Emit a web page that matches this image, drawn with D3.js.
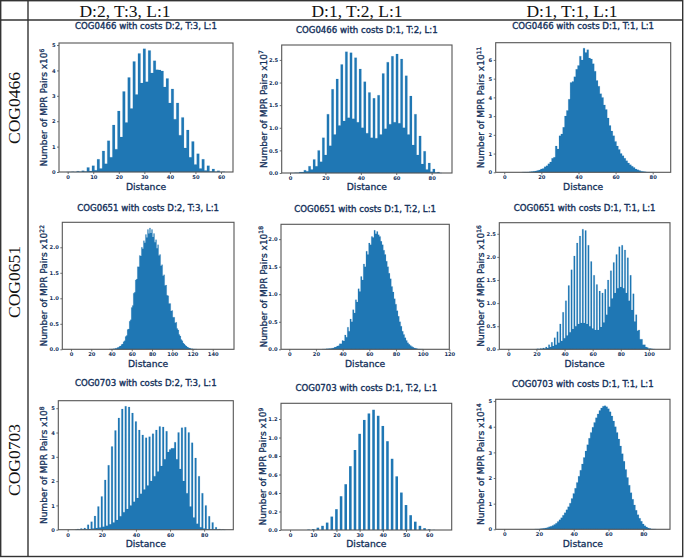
<!DOCTYPE html>
<html><head><meta charset="utf-8">
<script src="https://cdn.jsdelivr.net/npm/d3@7"></script>
<style>body{margin:0;background:#fff}svg{display:block}</style>
</head><body><svg id="c" width="685" height="558"></svg>
<script>
// ---------- DATA ----------
const columnHeaders = ["D:2, T:3, L:1", "D:1, T:2, L:1", "D:1, T:1, L:1"];
const rowHeaders = ["COG0466", "COG0651", "COG0703"];

// histogram heights (x10^exp MPR pairs), consecutive bins
const cog0466_d2t3 = [0,0,0.01,0,0.03,0.01,0.05,0.02,0.18,0.04,0.25,0.07,0.5,0.14,0.83,0.32,1.23,0.58,1.85,0.9,2.4,1.38,3.17,1.95,3.72,2.5,4.35,3.05,4.67,3.5,4.85,3.55,4.78,3.9,4.38,4.03,4.02,3.98,3.35,3.68,2.72,3.27,2.08,2.72,1.45,2.15,0.95,1.65,0.58,1.2,0.3,0.72,0.14,0.5,0.06,0.25,0.02,0.12,0.01,0.05,0,0.01];
const cog0466_d1t2 = [0,0,0.005,0.005,0.02,0.02,0.06,0.04,0.15,0.08,0.3,0.15,0.5,0.25,0.78,0.4,1.3,0.6,1.85,0.85,2.08,1.05,2.4,1.15,2.68,1.22,2.66,1.2,2.55,1.12,2.3,1.0,2.02,0.88,1.78,0.78,1.65,0.77,1.72,0.85,2.2,0.98,2.45,1.08,2.58,1.12,2.63,1.1,2.52,1.0,2.15,0.85,1.7,0.62,1.3,0.4,0.82,0.2,0.48,0.08,0.22,0.03,0.09,0.01,0.02,0];
const cog0466_d1t1 = [0.005,0.01,0.01,0.02,0.03,0.04,0.05,0.07,0.1,0.12,0.18,0.2,0.3,0.35,0.45,0.55,0.75,0.8,1.4,1.25,1.95,2.05,2.4,3.0,3.3,3.9,4.8,4.85,5.1,5.5,5.7,6.2,6.0,6.63,6.4,6.55,6.1,6.05,5.8,5.4,4.9,4.6,4.2,4.0,3.6,3.35,2.9,2.5,2.2,1.95,1.65,1.4,1.22,1.0,0.88,0.75,0.62,0.5,0.4,0.32,0.25,0.18,0.13,0.09,0.06,0.04,0.025,0.015,0.01,0.005,0.002];
const cog0651_d2t3 = [0.002,0.002,0.005,0.006,0.011,0.012,0.02,0.022,0.035,0.04,0.06,0.066,0.095,0.105,0.15,0.17,0.25,0.27,0.39,0.4,0.55,0.58,0.82,0.86,1.1,1.12,1.36,1.38,1.62,1.62,1.84,1.83,2.0,1.97,2.13,2.09,2.25,2.19,2.35,2.27,2.38,2.28,2.35,2.2,2.27,2.1,2.15,1.98,2.05,1.84,1.86,1.64,1.66,1.44,1.46,1.25,1.26,1.06,1.05,0.9,0.9,0.75,0.76,0.63,0.63,0.52,0.53,0.41,0.38,0.29,0.26,0.19,0.17,0.125,0.105,0.077,0.063,0.044,0.036,0.024,0.019,0.011,0.009,0.005,0.004,0.002,0.001];
const cog0651_d1t2 = [0.002,0.003,0.005,0.008,0.01,0.013,0.016,0.02,0.025,0.035,0.04,0.06,0.065,0.1,0.1,0.16,0.15,0.26,0.22,0.4,0.33,0.55,0.5,0.72,0.66,0.9,0.86,1.1,1.05,1.32,1.26,1.55,1.5,1.78,1.72,1.93,1.9,2.05,2.03,2.16,2.1,2.14,2.08,2.05,1.96,1.9,1.8,1.72,1.6,1.5,1.38,1.28,1.14,1.04,0.92,0.82,0.7,0.6,0.5,0.42,0.33,0.27,0.21,0.16,0.12,0.09,0.07,0.05,0.035,0.025,0.017,0.011,0.007,0.004,0.002,0.001];
const cog0651_d1t1 = [0.003,0.01,0.005,0.02,0.01,0.03,0.02,0.05,0.03,0.1,0.05,0.15,0.07,0.25,0.1,0.38,0.14,0.55,0.18,0.8,0.24,1.05,0.3,1.38,0.37,1.72,0.44,2.02,0.5,2.3,0.55,2.45,0.57,2.6,0.57,2.57,0.55,2.25,0.5,1.9,0.45,1.6,0.42,1.4,0.42,1.26,0.48,1.22,0.58,1.3,0.75,1.5,0.92,1.7,1.1,1.88,1.22,2.05,1.32,2.22,1.35,2.25,1.32,2.15,1.22,1.98,1.05,1.6,0.85,1.2,0.6,0.75,0.4,0.42,0.22,0.22,0.1,0.1,0.05,0.04,0.02,0.015,0.01,0.005,0.003];
const cog0703_d2t3 = [0.005,0.03,0.005,0.05,0.01,0.07,0.02,0.2,0.03,0.33,0.05,0.56,0.07,0.95,0.09,1.37,0.12,2.05,0.16,2.65,0.22,3.42,0.3,4.08,0.4,4.6,0.55,4.97,0.72,5.08,0.85,5.05,1.0,4.8,1.15,4.45,1.3,4.1,1.48,3.9,1.65,3.78,1.82,3.83,2.0,3.95,2.2,4.1,2.4,4.25,2.62,4.23,2.9,4.05,3.2,3.3,3.35,3.35,3.6,2.9,4.0,2.5,4.2,2.0,4.22,1.5,4.0,0.95,3.58,0.5,2.95,0.25,2.2,0.1,1.5,0.05,1.0,0.02,0.55,0.01,0.3,0.005,0.1,0,0.03,0,0.01,0];
const cog0703_d1t2 = [0.005,0.01,0.025,0.045,0.08,0.145,0.225,0.365,0.495,0.69,0.865,1.04,1.19,1.26,1.30,1.235,1.125,0.96,0.77,0.58,0.405,0.27,0.16,0.09,0.045,0.02,0.008,0.002];
const cog0703_d1t1 = [0.005,0.008,0.012,0.02,0.03,0.04,0.055,0.075,0.095,0.12,0.15,0.19,0.24,0.3,0.37,0.45,0.55,0.65,0.76,0.88,1.02,1.2,1.4,1.6,1.83,2.07,2.3,2.55,2.8,3.05,3.3,3.55,3.78,3.98,4.17,4.35,4.5,4.63,4.73,4.8,4.82,4.78,4.7,4.58,4.42,4.22,4.0,3.78,3.52,3.25,2.95,2.65,2.33,2.02,1.72,1.43,1.17,0.95,0.74,0.57,0.43,0.31,0.21,0.14,0.09,0.055,0.03,0.015,0.007,0.003];

// tick values
const xTicks10to60 = [0,10,20,30,40,50,60];
const xTicks0to80 = [0,20,40,60,80];
const xTicks0to140 = [0,20,40,60,80,100,120,140];
const xTicks0to120 = [0,20,40,60,80,100,120];
const xTicks0to100 = [0,20,40,60,80,100];
const yTicksInt5 = [0,1,2,3,4,5];
const yTicksInt6 = [0,1,2,3,4,5,6];
const yTicksHalf25 = [0,0.5,1.0,1.5,2.0,2.5];
const yTicksHalf20 = [0,0.5,1.0,1.5,2.0];
const yTicksFifth12 = [0,0.2,0.4,0.6,0.8,1.0,1.2];
const exponents = [[6,7,11],[22,18,16],[8,9,14]];

// ---------- LAYOUT ----------
const panels = [
 {r:0,c:0,data:cog0466_d2t3,start:-0.5,bw:1,frac:1,xd:[-3.4,64.7],yMax:5.08,box:[59,233,43,172],xt:xTicks10to60,yt:yTicksInt5,yf:"d",ty:26,yl:44,xl:186},
 {r:0,c:1,data:cog0466_d1t2,start:0,bw:1.3,frac:1,xd:[-4.7,91.5],yMax:2.83,box:[281.7,452,45,173],xt:xTicks0to80,yt:yTicksHalf25,yf:".1f",ty:30,yl:263.5,xl:186},
 {r:0,c:2,data:cog0466_d1t1,start:9.5,bw:1,frac:1,xd:[-4.6,89.7],yMax:6.92,box:[495.7,670.7,42.7,172.3],xt:xTicks0to80,yt:yTicksInt6,yf:"d",ty:26,yl:481,xl:186},
 {r:1,c:0,data:cog0651_d2t3,start:37.5,bw:1,frac:1,xd:[-8.6,161],yMax:2.49,box:[62.3,234,222.3,349.3],xt:xTicks0to140,yt:yTicksHalf20,yf:".1f",ty:207.7,yl:44,xl:363},
 {r:1,c:1,data:cog0651_d1t2,start:24.5,bw:1,frac:1,xd:[-6.2,120],yMax:2.27,box:[281,449.3,224.3,349.3],xt:xTicks0to120,yt:yTicksHalf20,yf:".1f",ty:209,yl:263.5,xl:363},
 {r:1,c:2,data:cog0651_d1t1,start:19.5,bw:1,frac:1,xd:[-6.4,115],yMax:2.74,box:[499.3,670,222.7,349.3],xt:xTicks0to100,yt:yTicksHalf25,yf:".1f",ty:207.7,yl:481,xl:363},
 {r:2,c:0,data:cog0703_d2t3,start:4.5,bw:1,frac:1,xd:[-5.5,97.1],yMax:5.31,box:[58.3,233.3,400.7,529.7],xt:xTicks0to80,yt:yTicksInt5,yf:"d",ty:383.3,yl:44,xl:543.3},
 {r:2,c:1,data:cog0703_d1t2,start:7,bw:2,frac:0.55,xd:[-3.9,69.7],yMax:1.37,box:[281,451.7,403.3,530],xt:xTicks10to60,yt:yTicksFifth12,yf:".1f",ty:387.7,yl:263,xl:543.3},
 {r:2,c:2,data:cog0703_d1t1,start:17.5,bw:1,frac:1,xd:[-4.9,95.4],yMax:5.07,box:[495.7,670,399.3,529.3],xt:xTicks0to80,yt:yTicksInt5,yf:"d",ty:384,yl:481,xl:543.3}
];

const TXT = "#13305a";
const BAR = "#1f77b4";
const svg = d3.select("#c");
svg.append("rect").attr("width",685).attr("height",558).attr("fill","#fff");

panels.forEach(p => {
  const [L,R,T,B] = p.box;
  const x = d3.scaleLinear().domain(p.xd).range([L,R]);
  const y = d3.scaleLinear().domain([0,p.yMax]).range([B,T]);
  const g = svg.append("g");
  if (p.frac >= 1) {
    const pts = p.data.map((v,i)=>({e:p.start+i*p.bw, v}));
    pts.push({e:p.start+p.data.length*p.bw, v:p.data[p.data.length-1]});
    const area = d3.area().curve(d3.curveStepAfter)
      .x(d=>x(d.e)).y0(y(0)).y1(d=>y(d.v));
    g.append("path").datum(pts).attr("d",area).attr("fill",BAR)
      .attr("stroke",BAR).attr("stroke-width",0.15);
  } else {
    g.selectAll("rect.bar").data(p.data).join("rect").attr("class","bar")
      .attr("x",(v,i)=>x(p.start+i*p.bw+p.bw*(1-p.frac)/2))
      .attr("width",(v,i)=>(x(p.start+(i+1)*p.bw)-x(p.start+i*p.bw))*p.frac)
      .attr("y",v=>y(v)).attr("height",v=>y(0)-y(v))
      .attr("fill",BAR);
  }
  const ax = g.append("g").attr("transform",`translate(0,${B})`)
    .call(d3.axisBottom(x).tickValues(p.xt).tickSize(2).tickPadding(1.5).tickFormat(d3.format("d")));
  const ay = g.append("g").attr("transform",`translate(${L},0)`)
    .call(d3.axisLeft(y).tickValues(p.yt).tickSize(2).tickPadding(1.5).tickFormat(d3.format(p.yf)));
  [ax,ay].forEach(a=>{
    a.select(".domain").remove();
    a.selectAll("line").attr("stroke","#333").attr("stroke-width",0.7);
    a.selectAll("text").attr("fill",TXT).attr("font-family","DejaVu Sans").attr("font-size",5.2).attr("font-weight","bold");
  });
  g.append("rect").attr("x",L).attr("y",T).attr("width",R-L).attr("height",B-T)
    .attr("fill","none").attr("stroke","#555").attr("stroke-width",1.1);
  const cx = (L+R)/2;
  g.append("text").attr("x",cx).attr("y",p.ty).attr("text-anchor","middle").attr("dominant-baseline","central")
    .attr("font-family","DejaVu Sans").attr("font-size",8.6).attr("fill",TXT).attr("stroke",TXT).attr("stroke-width",0.35)
    .text(`${rowHeaders[p.r]} with costs ${columnHeaders[p.c]}`);
  g.append("text").attr("x",cx).attr("y",p.xl).attr("text-anchor","middle").attr("dominant-baseline","central")
    .attr("font-family","DejaVu Sans").attr("font-size",9.2).attr("fill",TXT).attr("stroke",TXT).attr("stroke-width",0.3)
    .text("Distance");
  const yl = g.append("text").attr("transform",`translate(${p.yl},${(T+B)/2}) rotate(-90)`)
    .attr("text-anchor","middle").attr("dominant-baseline","central")
    .attr("font-family","DejaVu Sans").attr("font-size",9).attr("fill",TXT).attr("stroke",TXT).attr("stroke-width",0.3);
  yl.append("tspan").text("Number of MPR Pairs x10");
  yl.append("tspan").attr("font-size",6).attr("dy",-3.5).text(exponents[p.r][p.c]);
});

// table frame
const frame = svg.append("g").attr("stroke","#333").attr("stroke-width",1.4).attr("fill","none");
frame.append("rect").attr("x",0.7).attr("y",0.7).attr("width",682).attr("height",555.8);
frame.append("line").attr("x1",28).attr("x2",28).attr("y1",0).attr("y2",557);
frame.append("line").attr("x1",0).attr("x2",683).attr("y1",20).attr("y2",20);

const headerX = [125, 357, 572];
columnHeaders.forEach((h,i)=>{
  svg.append("text").attr("x",headerX[i]).attr("y",10.5).attr("text-anchor","middle").attr("dominant-baseline","central")
    .attr("font-family","Liberation Serif").attr("font-size",17.5).attr("fill","#111").text(h);
});
const rowY = [108, 282, 460];
rowHeaders.forEach((h,i)=>{
  svg.append("text").attr("transform",`translate(14,${rowY[i]}) rotate(-90)`).attr("text-anchor","middle").attr("dominant-baseline","central")
    .attr("font-family","Liberation Serif").attr("font-size",17.5).attr("fill","#111").text(h);
});
</script></body></html>
